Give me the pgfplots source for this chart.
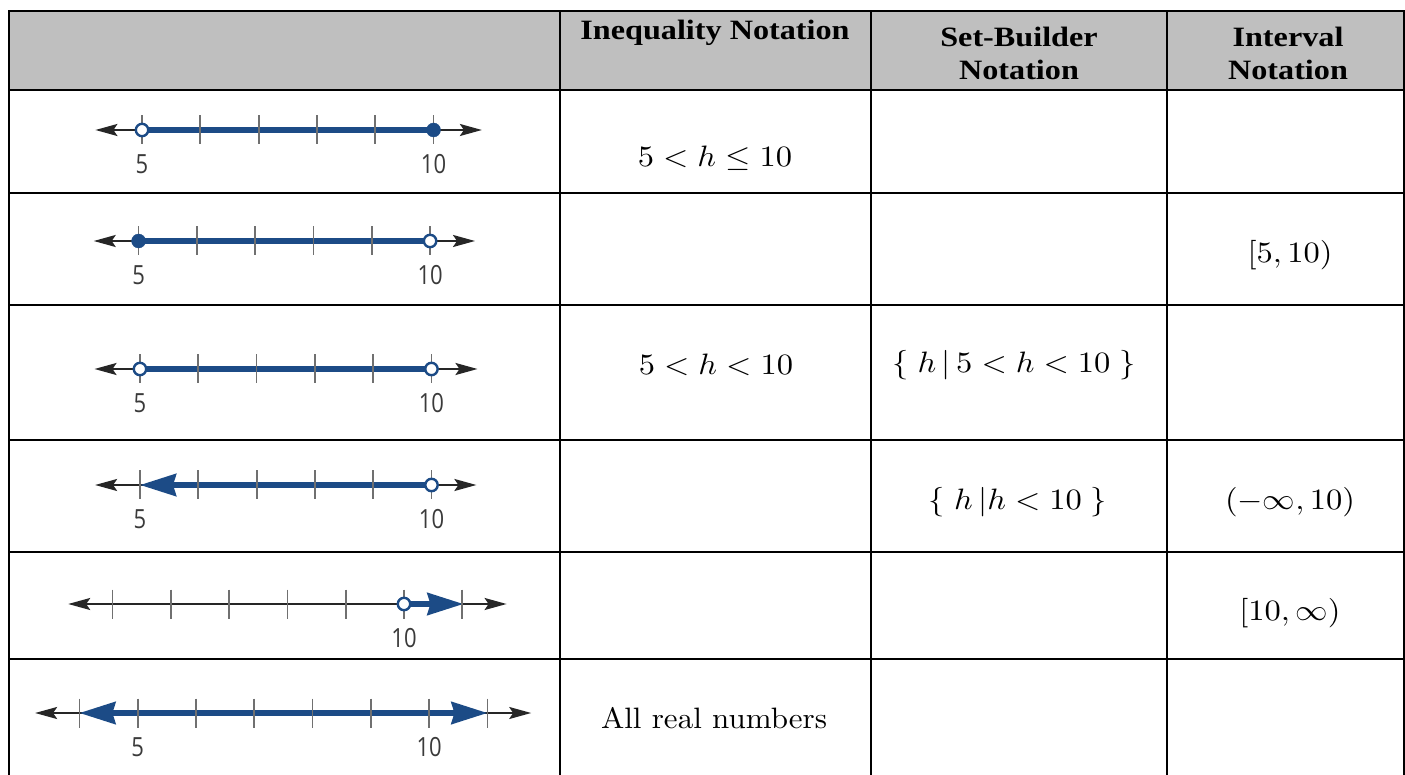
\documentclass[border=0pt]{standalone}
\usepackage{fontspec}
\usepackage{pgfplots}
\pgfplotsset{compat=1.18}
\usetikzlibrary{arrows.meta}
\newfontfamily\timesbf{Liberation Serif}
\newfontfamily\labfont{Open Sans}
\definecolor{nlblue}{HTML}{1C4B86}
\definecolor{tickgray}{HTML}{707070}
\definecolor{labgray}{HTML}{3A3A3A}
\definecolor{hdrgray}{HTML}{BFBFBF}
\pgfplotsset{
  nl/.style={hide axis, scale only axis, height=30pt, ymin=-1, ymax=1, clip=false, anchor=west},
  axisline/.style={line width=2pt, black!85, {Stealth[length=22pt,width=12pt,inset=4pt]}-{Stealth[length=22pt,width=12pt,inset=4pt]}},
  bluel/.style={line width=5.5pt, nlblue},
  ticks/.style={tickgray, only marks, mark=|, mark size=14.5pt, mark options={line width=1.8pt}},
  opendot/.style={only marks, mark=*, mark size=6.2pt, mark options={draw=nlblue, fill=white, line width=2.4pt}},
  fulldot/.style={only marks, mark=*, mark size=7pt, mark options={draw=nlblue, fill=nlblue}},
  labs/.style={draw=none, mark=none, nodes near coords, point meta=explicit symbolic,
    every node near coord/.append style={anchor=center, yshift=-34pt, yscale=1.2, font=\labfont\fontsize{22}{25}\selectfont, text=labgray}},
}
\tikzset{
  bhead/.tip={Stealth[length=36pt,width=22pt,inset=3pt]},
  bah/.style={-bhead}}
\begin{document}
\begin{tikzpicture}[x=1pt,y=1pt]
\path[use as bounding box] (0,0) rectangle (1405,774);
% header fill
\fill[hdrgray] (9,763) rectangle (1404,684);
% ---- table grid ----
\begin{scope}[line width=2.6pt, line cap=rect]
\draw (9,763) -- (1404,763);
\draw (9,763) -- (9,0);
\draw (560,763) -- (560,0);
\draw (871,763) -- (871,0);
\draw (1167,763) -- (1167,0);
\draw (1404,763) -- (1404,0);
\draw (9,581) -- (1404,581);
\draw (9,684) -- (76,684); \draw (495,684) -- (1404,684);
\draw (9,469) -- (81,469); \draw (487,469) -- (1404,469);
\draw (9,334) -- (77,334); \draw (492,334) -- (1404,334);
\draw (9,222) -- (51,222); \draw (518,222) -- (1404,222);
\draw (9,115) -- (25,115); \draw (544,115) -- (1404,115);
\end{scope}
\begin{scope}[line width=1.3pt]
\draw (76,684) -- (495,684);
\draw (81,469) -- (487,469);
\draw (77,334) -- (492,334);
\draw (51,222) -- (518,222);
\draw (25,115) -- (544,115);
\end{scope}
% ---- header text ----
\begin{scope}[font=\timesbf\bfseries\fontsize{28}{33}\selectfont, every node/.style={xscale=1.15}]
\node[anchor=base] at (715,734) {Inequality Notation};
\node[anchor=base] at (1019,727) {Set-Builder};
\node[anchor=base] at (1019,694) {Notation};
\node[anchor=base] at (1288,727) {Interval};
\node[anchor=base] at (1288,694) {Notation};
\end{scope}
% ---- cell text ----
\begin{scope}[every node/.style={xscale=3.25, yscale=2.95}]
\node at (715,616) {$5<h\leq 10$};
\node at (1290,519) {$[5,10)$};
\node at (716,409) {$5<h<10$};
\node at (1014,409) {$\{\;h\,|\,5<h<10\;\}$};
\node at (1018,272) {$\{\;h\,|h<10\;\}$};
\node at (1290,272) {$(-\infty,10)$};
\node at (1290,161) {$[10,\infty)$};
\end{scope}
\node[xscale=3.1, yscale=2.95] at (714,56) {All real numbers};
% ---- row 1: 5 < h <= 10 ----
\begin{axis}[nl, at={(95.4pt,644pt)}, xmin=4.2, xmax=10.83, width=386.5pt]
\addplot[axisline] coordinates {(4.2,0) (10.83,0)};
\addplot[bluel] coordinates {(5,0) (10,0)};
\addplot[ticks] coordinates {(5,0) (6,0) (7,0) (8,0) (9,0) (10,0)};
\addplot[opendot] coordinates {(5,0)};
\addplot[fulldot] coordinates {(10,0)};
\addplot[labs] coordinates {(5,0) [5] (10,0) [10]};
\end{axis}
% ---- row 2: [5,10) ----
\begin{axis}[nl, at={(93.7pt,533pt)}, xmin=4.23, xmax=10.77, width=381.3pt]
\addplot[axisline] coordinates {(4.23,0) (10.77,0)};
\addplot[bluel] coordinates {(5,0) (10,0)};
\addplot[ticks] coordinates {(5,0) (6,0) (7,0) (8,0) (9,0) (10,0)};
\addplot[fulldot] coordinates {(5,0)};
\addplot[opendot] coordinates {(10,0)};
\addplot[labs] coordinates {(5,0) [5] (10,0) [10]};
\end{axis}
% ---- row 3: (5,10) ----
\begin{axis}[nl, at={(94.5pt,405pt)}, xmin=4.22, xmax=10.79, width=383.0pt]
\addplot[axisline] coordinates {(4.22,0) (10.79,0)};
\addplot[bluel] coordinates {(5,0) (10,0)};
\addplot[ticks] coordinates {(5,0) (6,0) (7,0) (8,0) (9,0) (10,0)};
\addplot[opendot] coordinates {(5,0) (10,0)};
\addplot[labs] coordinates {(5,0) [5] (10,0) [10]};
\end{axis}
% ---- row 4: (-inf,10) ----
\begin{axis}[nl, at={(95.1pt,289pt)}, xmin=4.23, xmax=10.77, width=381.3pt]
\addplot[axisline] coordinates {(4.23,0) (10.77,0)};
\addplot[bluel, bah] coordinates {(10,0) (5.0,0)};
\addplot[ticks] coordinates {(5,0) (6,0) (7,0) (8,0) (9,0) (10,0)};
\addplot[opendot] coordinates {(10,0)};
\addplot[labs] coordinates {(5,0) [5] (10,0) [10]};
\end{axis}
% ---- row 5: (10,inf) ----
\begin{axis}[nl, at={(68.2pt,170pt)}, xmin=4.24, xmax=11.76, width=438.4pt]
\addplot[axisline] coordinates {(4.24,0) (11.76,0)};
\addplot[ticks] coordinates {(5,0) (6,0) (7,0) (8,0) (9,0) (10,0) (11,0)};
\addplot[bluel, bah] coordinates {(10,0) (11.02,0)};
\addplot[opendot] coordinates {(10,0)};
\addplot[labs] coordinates {(10,0) [10]};
\end{axis}
% ---- row 6: all reals ----
\begin{axis}[nl, at={(35.1pt,61pt)}, xmin=3.24, xmax=11.75, width=496.1pt]
\addplot[axisline] coordinates {(3.24,0) (11.75,0)};
\addplot[bluel, bhead-bhead] coordinates {(4.0,0) (11.0,0)};
\addplot[ticks] coordinates {(4,0) (5,0) (6,0) (7,0) (8,0) (9,0) (10,0) (11,0)};
\addplot[labs] coordinates {(5,0) [5] (10,0) [10]};
\end{axis}
\end{tikzpicture}
\end{document}
